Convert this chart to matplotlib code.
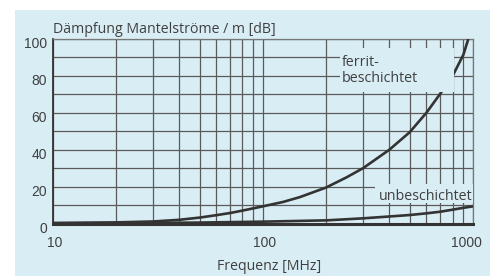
import matplotlib
matplotlib.use("Agg")
import matplotlib.pyplot as plt
import matplotlib.transforms as mtransforms
from matplotlib.patches import Rectangle

# values (frequency in MHz, attenuation in dB per m)
freq_ferrit = [10, 20, 30, 40, 50, 60, 70, 80, 90, 100, 125, 150, 200, 250,
               300, 400, 500, 600, 700, 800, 900, 950]
db_ferrit = [0.3, 0.6, 1.1, 2.0, 3.2, 4.5, 5.7, 7.0, 8.2, 9.3, 11.7, 14.3, 19.5,
             25.0, 30.0, 40.0, 49.5, 60.0, 70.5, 80.0, 91.5, 100.0]

freq_unbesch = [10, 20, 50, 100, 200, 300, 400, 500, 600, 700, 800, 900, 1000]
db_unbesch = [0.1, 0.2, 0.5, 1.0, 1.7, 2.8, 3.8, 4.6, 5.5, 6.4, 7.5, 8.5, 9.3]

x_major = [10, 100, 1000]
x_major_labels = ["10", "100", "1000"]
y_ticks = [0, 20, 40, 60, 80, 100]

BG = "#d9edf5"
GRID = "#5a5a5a"
INK = "#333333"
TXT = "#404040"
FONT = "Open Sans"
NUMFONT = "Liberation Sans"

fig = plt.figure(figsize=(4.9, 2.76), dpi=100, facecolor="white")
# light blue panel, white strip at top and left
bg = Rectangle((15 / 490, 0), 1 - 15 / 490, 1 - 10 / 276,
               transform=fig.transFigure, facecolor=BG, edgecolor="none")
bg.set_zorder(-10)
fig.add_artist(bg)

ax = fig.add_axes([52.7 / 490, 1 - 223.5 / 276, 420.3 / 490, 184.5 / 276])
ax.set_zorder(1)
ax.set_facecolor(BG)
ax.set_xscale("log")
ax.set_xlim(10, 1000)
ax.set_ylim(0, 100)

minor = [v * m for m in (10, 100) for v in range(2, 10)]
ax.set_xticks(x_major)
ax.set_xticklabels(x_major_labels)
ax.set_xticks(minor, minor=True)
ax.set_xticklabels([], minor=True)
ax.set_yticks(y_ticks)
ax.set_yticks(range(10, 100, 20), minor=True)
ax.grid(True, which="both", color=GRID, lw=0.9, zorder=1)
ax.set_axisbelow(True)
ax.tick_params(which="both", length=0)
ax.tick_params(axis="x", pad=9)
ax.tick_params(axis="y", pad=4)
for lab in ax.get_xticklabels() + ax.get_yticklabels():
    lab.set_fontfamily(NUMFONT)
    lab.set_fontsize(10)
    lab.set_color(TXT)
down = mtransforms.ScaledTranslation(0, -4 / 100, fig.dpi_scale_trans)
for lab in ax.get_yticklabels():
    lab.set_transform(lab.get_transform() + down)
for lab, dx in zip(ax.get_xticklabels(), (2, 2, -7)):
    lab.set_transform(lab.get_transform()
                      + mtransforms.ScaledTranslation(dx / 100, 0, fig.dpi_scale_trans))

for side in ("top", "right"):
    ax.spines[side].set_color("#777777")
    ax.spines[side].set_linewidth(0.9)
ax.spines["left"].set_color(INK)
ax.spines["left"].set_linewidth(1.3)
ax.spines["bottom"].set_color(INK)
ax.spines["bottom"].set_linewidth(2.2)

ax.plot(freq_ferrit, db_ferrit, color=INK, lw=1.9, zorder=3, solid_capstyle="butt")
ax.plot(freq_unbesch, db_unbesch, color=INK, lw=1.9, zorder=3, solid_capstyle="butt")

# patches behind the curve labels hide the grid (and part of the curve)
ax.add_patch(Rectangle((233, 71.2), 810 - 233, 95.2 - 71.2, facecolor=BG,
                       edgecolor="none", zorder=4))
ax.add_patch(Rectangle((342, 10.9), 1000 - 342, 21.2 - 10.9, facecolor=BG,
                       edgecolor="none", zorder=4))

ax.text(238, 83.0, "ferrit-\nbeschichtet", fontfamily=FONT, fontsize=10.3,
        color=TXT, ha="left", va="center", linespacing=1.05, zorder=5)
ax.text(995, 10.8, "unbeschichtet", fontfamily=FONT, fontsize=10.3,
        color=TXT, ha="right", va="bottom", zorder=5)

fig.text(52.7 / 490, 1 - 29.5 / 276, "Dämpfung Mantelströme / m [dB]",
         fontfamily=FONT, fontsize=10.2, color=TXT, ha="left", va="center")
fig.text(269 / 490, 1 - 266 / 276, "Frequenz [MHz]", fontfamily=FONT,
         fontsize=10.2, color=TXT, ha="center", va="center")

fig.savefig("out.png", dpi=100, facecolor="white")
